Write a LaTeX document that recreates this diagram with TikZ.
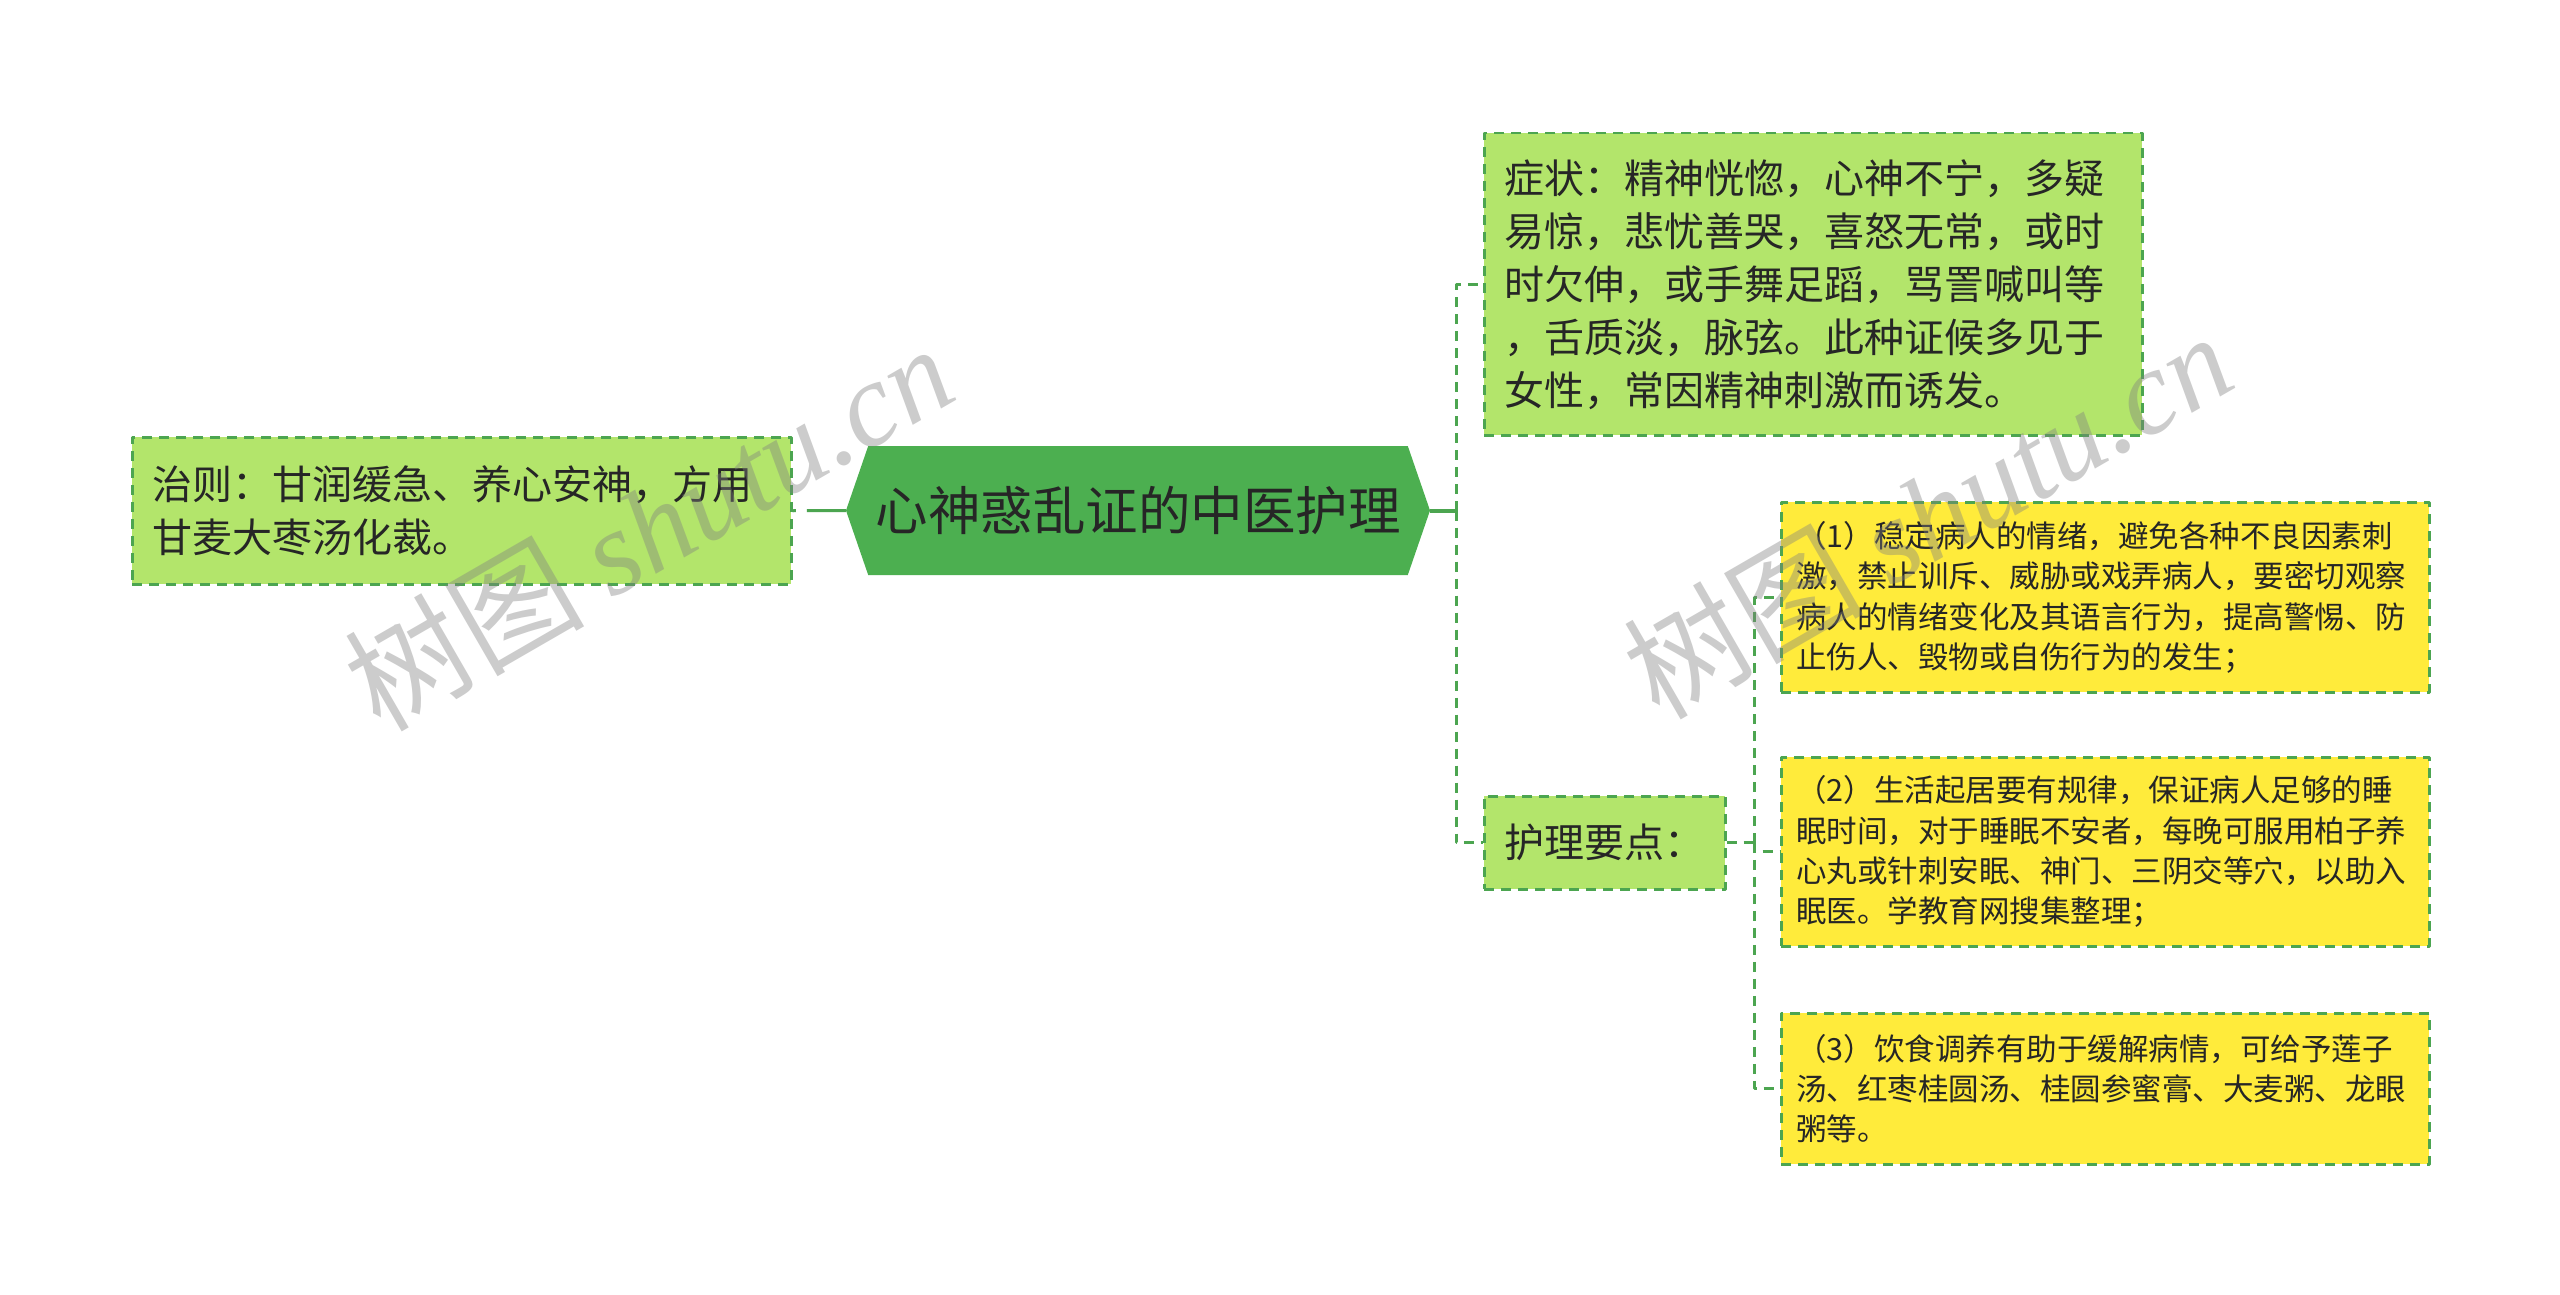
\documentclass[tikz,border=0pt]{standalone}
\usepackage{fontspec}
\setmainfont{Noto Sans CJK SC}
\newfontfamily\wmlatin{Liberation Serif}
\usetikzlibrary{shapes.symbols}

\definecolor{hexgreen}{HTML}{4CAF50}
\definecolor{leafgreen}{HTML}{B3E56B}
\definecolor{leafyellow}{HTML}{FFEB3B}
\definecolor{linegreen}{HTML}{4CA550}
\definecolor{inkgray}{HTML}{262626}

\begin{document}
\begin{tikzpicture}[x=1pt, y=-1pt, line join=round,
  titlehex/.style={shape=signal, signal to=west and east, signal pointer angle=142,
    fill=hexgreen, inner sep=0pt, text=inkgray, font=\fontsize{52.5}{60}\selectfont},
  leafbox/.style={draw=linegreen, line width=2.5pt, dash pattern=on 10pt off 7pt,
    fill=leafgreen, anchor=north west, inner xsep=20pt, inner ysep=0pt, align=left,
    text=inkgray, font=\fontsize{40}{53}\selectfont},
  notebox/.style={leafbox, fill=leafyellow, inner xsep=15pt, font=\fontsize{30.5}{40.3}\selectfont},
  link/.style={draw=linegreen, line width=3pt, dash pattern=on 10pt off 7pt},
  stem/.style={draw=linegreen, line width=4pt},
  watermark/.style={rotate=30, text=gray, opacity=0.4, font=\fontsize{120}{120}\selectfont}]

  %% ════ 底色 ════
  \fill[white] (0,0) rectangle (2560,1295);

  %% ════ 中心主题 ════
  \node[titlehex, minimum width=584pt, minimum height=129pt] (title) at (1138,510.5) {心神惑乱证的中医护理};   % box(846,446,584,129)

  %% ════ 左侧分支 ════
  \node[leafbox, minimum width=659pt, minimum height=147pt, text width=619pt] (rule) at (131,436)
    {治则：甘润缓急、养心安神，方用\\甘麦大枣汤化裁。};

  %% ════ 右侧分支 ════
  \node[leafbox, minimum width=658pt, minimum height=302pt, text width=618pt] (sym) at (1483,132)
    {症状：精神恍惚，心神不宁，多疑\\易惊，悲忧善哭，喜怒无常，或时\\时欠伸，或手舞足蹈，骂詈喊叫等\\，舌质淡，脉弦。此种证候多见于\\女性，常因精神刺激而诱发。};
  \node[leafbox, minimum width=240pt, minimum height=93pt, text width=201pt] (care) at (1483,795)
    {护理要点：};

  %% ════ 护理要点的子项 ════
  \node[notebox, minimum width=648pt, minimum height=190pt, text width=618pt] (tip1) at (1780,501)
    {（1）稳定病人的情绪，避免各种不良因素刺\\激，禁止训斥、威胁或戏弄病人，要密切观察\\病人的情绪变化及其语言行为，提高警惕、防\\止伤人、毁物或自伤行为的发生；};
  \node[notebox, minimum width=648pt, minimum height=189pt, text width=618pt] (tip2) at (1780,756)
    {（2）生活起居要有规律，保证病人足够的睡\\眠时间，对于睡眠不安者，每晚可服用柏子养\\心丸或针刺安眠、神门、三阴交等穴，以助入\\眠医。学教育网搜集整理；};
  \node[notebox, minimum width=648pt, minimum height=151pt, text width=618pt] (tip3) at (1780,1012)
    {（3）饮食调养有助于缓解病情，可给予莲子\\汤、红枣桂圆汤、桂圆参蜜膏、大麦粥、龙眼\\粥等。};

  %% ════ 连线 ════
  \draw[link, dash pattern=on 39pt off 11pt] (title.west) -- (rule.east);

  \coordinate (hubA) at ([xshift=26pt]title.east);
  \draw[stem] (title.east) -- (hubA);
  \draw[link] (hubA) |- (sym.west);
  \draw[link] (hubA) |- (care.west);

  \coordinate (hubB) at ([xshift=28pt]care.east);
  \draw[link] (care.east) -- (hubB);
  \foreach \n in {tip1,tip2,tip3}
    \draw[link] (hubB) |- (\n.west);

  %% ════ 水印 ════
  \node[watermark] (wmleft) at (648,526) {树图 {\wmlatin\itshape shutu.cn}};
  \node[watermark] (wmright) at (1927,514) {树图 {\wmlatin\itshape shutu.cn}};

  \pgfresetboundingbox
  \path[use as bounding box] (0,0) rectangle (2560,1295);
\end{tikzpicture}
\end{document}
